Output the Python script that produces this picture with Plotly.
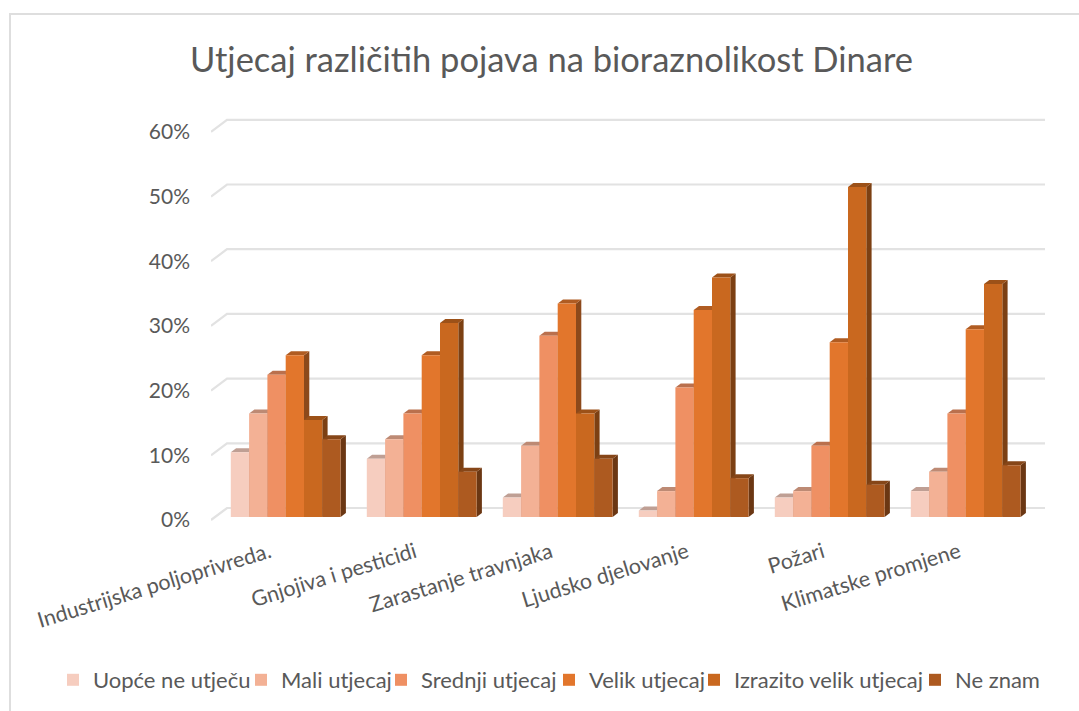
import plotly.graph_objects as go

categories = ["Industrijska poljoprivreda.", "Gnjojiva i pesticidi", "Zarastanje travnjaka",
              "Ljudsko djelovanje", "Požari", "Klimatske promjene"]
uopce = [10, 9, 3, 1, 3, 4]
mali = [16, 12, 11, 4, 4, 7]
srednji = [22, 16, 28, 20, 11, 16]
velik = [25, 25, 33, 32, 27, 29]
izrazito = [15, 30, 16, 37, 51, 36]
ne_znam = [12, 7, 9, 6, 5, 8]
series_names = ["Uopće ne utječu", "Mali utjecaj", "Srednji utjecaj", "Velik utjecaj",
                "Izrazito velik utjecaj", "Ne znam"]
series_values = [uopce, mali, srednji, velik, izrazito, ne_znam]
y_ticks = [0, 10, 20, 30, 40, 50, 60]
y_labels = ["0%", "10%", "20%", "30%", "40%", "50%", "60%"]

colors = ["#F6CDBF", "#F3B195", "#EF9063", "#E2762C", "#C9681F", "#AD5A20"]
W, H = 1079, 711
MB = 60           # bottom margin, large enough to hold the legend's reserved space
HE = H - MB       # height of the paper area
FONT = "Lato"
TXT = "#595959"
L, R, T, B = 211, 1045, 110, 535
PX_X = 136.0
PX_Y = 6.47
X0 = 285.7
Y0 = 517.0
xr = [(L - X0) / PX_X, (R - X0) / PX_X]
yr = [(Y0 - B) / PX_Y, (Y0 - T) / PX_Y]
BAR_W = 18.3 / PX_X
DX, DY = 5.3 / PX_X, 4.0 / PX_Y
FRONT_DY, BACK_DY = -3.0 / PX_Y, 9.0 / PX_Y
BACK_DX = 16 / PX_X
label_shift = [-0.12, -0.05, -0.05, -0.05, -0.05, -0.05]


def shade(c, k):
    r, g, b = int(c[1:3], 16), int(c[3:5], 16), int(c[5:7], 16)
    return "rgb(%d,%d,%d)" % (r * k, g * k, b * k)


fig = go.Figure()

for v in y_ticks:
    fig.add_trace(go.Scatter(
        x=[xr[0], xr[0] + BACK_DX, xr[1]],
        y=[v + FRONT_DY, v + BACK_DY, v + BACK_DY],
        mode="lines", line=dict(color="#E2E2E2", width=2.2),
        showlegend=False, hoverinfo="skip"))

n = len(series_values)
for s, vals in enumerate(series_values):
    for i, v in enumerate(vals):
        xa = i + (s - n / 2 + 1) * BAR_W
        fig.add_trace(go.Scatter(
            x=[xa, xa + DX, xa + DX, xa, xa], y=[0, DY, v + DY, v, 0],
            mode="lines", fill="toself", fillcolor=shade(colors[s], 0.62),
            line=dict(width=0), showlegend=False, hoverinfo="skip"))
for s, vals in enumerate(series_values):
    for i, v in enumerate(vals):
        xa = i + (s - n / 2 + 1) * BAR_W
        xb = xa - BAR_W
        fig.add_trace(go.Scatter(
            x=[xb, xa, xa + DX, xb + DX, xb], y=[v, v, v + DY, v + DY, v],
            mode="lines", fill="toself", fillcolor=shade(colors[s], 0.78),
            line=dict(width=0), showlegend=False, hoverinfo="skip"))

entry_widths = [143, 95, 123, 100, 176, 80]
for s, vals in enumerate(series_values):
    fig.add_trace(go.Bar(
        x=list(range(len(categories))), y=vals, name=series_names[s],
        marker=dict(color=colors[s], line=dict(width=0)),
        xaxis="x2", yaxis="y2", legendwidth=entry_widths[s]))

fig.update_layout(
    width=W, height=H, margin=dict(l=0, r=0, t=0, b=MB),
    paper_bgcolor="white", plot_bgcolor="rgba(0,0,0,0)",
    barmode="group", bargap=1 - 6 * BAR_W, bargroupgap=0,
    title=dict(text="Utjecaj različitih pojava na bioraznolikost Dinare",
               font=dict(family=FONT, size=34.5, color=TXT),
               x=551.5 / W, xanchor="center", y=1 - 60 / H, yanchor="middle"),
    font=dict(family=FONT, size=21, color=TXT),
    xaxis=dict(domain=[L / W, R / W], range=xr, showgrid=False, zeroline=False, showline=False,
               tickmode="array", tickvals=[i + d for i, d in enumerate(label_shift)],
               ticktext=categories, tickangle=-17, ticks="", anchor="y", automargin=False,
               tickfont=dict(family=FONT, size=21.5, color=TXT)),
    yaxis=dict(domain=[1 - B / HE, 1 - T / HE], range=yr, showgrid=False, zeroline=False, showline=False,
               tickmode="array", tickvals=[v + FRONT_DY for v in y_ticks], ticktext=y_labels,
               ticks="", ticklabelstandoff=20, anchor="x", automargin=False,
               tickfont=dict(family=FONT, size=21, color=TXT)),
    xaxis2=dict(domain=[L / W, R / W], range=xr, overlaying="x", visible=False, anchor="y2"),
    yaxis2=dict(domain=[1 - B / HE, 1 - T / HE], range=yr, overlaying="y", visible=False, anchor="x2"),
    legend=dict(orientation="h", xref="container", yref="container",
                x=53 / W, xanchor="left", y=1 - 680 / H, yanchor="middle",
                font=dict(family=FONT, size=22, color=TXT), traceorder="normal",
                bgcolor="rgba(0,0,0,0)"),
    shapes=[dict(type="rect", xref="paper", yref="paper", x0=10 / W, x1=1090 / W,
                 y0=-0.2, y1=1 - 14 / HE, line=dict(color="#DEDEDE", width=2), layer="below")],
    showlegend=True,
)
fig.write_html("out.html", config=dict(displayModeBar=False),
               post_script="document.body.style.margin='0';")
